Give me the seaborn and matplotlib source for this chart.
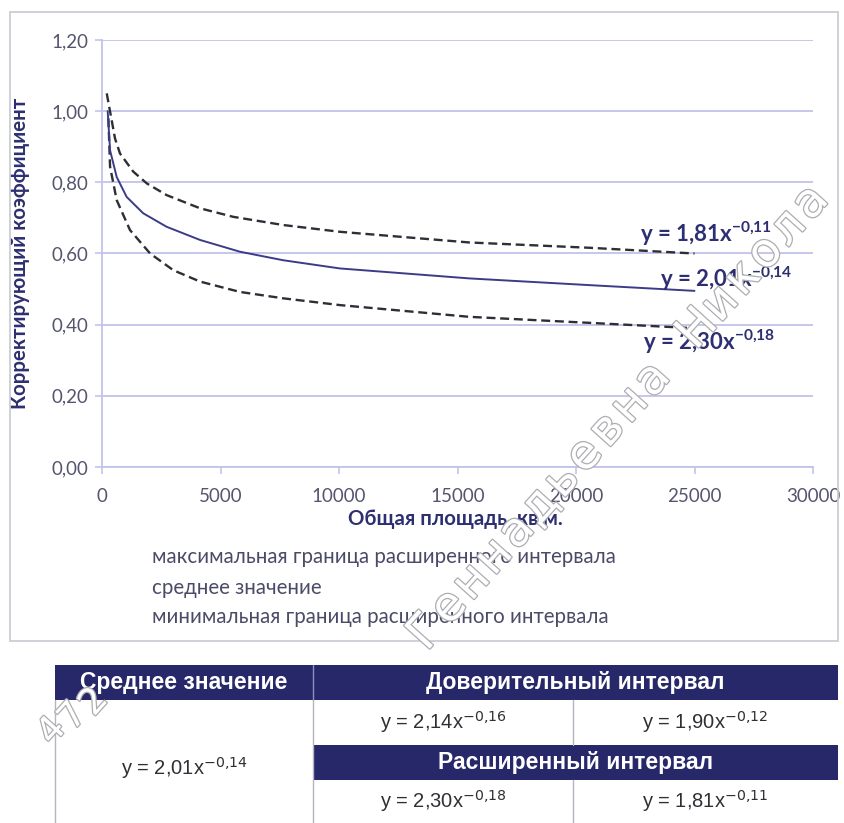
import matplotlib
matplotlib.use("Agg")
import matplotlib.pyplot as plt
import matplotlib.patheffects as pe
from matplotlib.patches import Rectangle
import seaborn as sns
import pandas as pd

# ---------------- data ----------------
x_max = [200, 550, 760, 1320, 1890, 2730, 4140, 5540, 7650, 10040, 15500, 20600, 25000]
y_max = [1.05, 0.923, 0.881, 0.830, 0.797, 0.764, 0.727, 0.703, 0.680, 0.661, 0.631, 0.616, 0.600]
x_mean = [240, 340, 620, 1040, 1740, 2730, 4140, 5820, 7650, 10040, 15500, 20600, 25000]
y_mean = [1.00, 0.890, 0.815, 0.759, 0.713, 0.675, 0.638, 0.605, 0.581, 0.558, 0.530, 0.511, 0.495]
x_min = [270, 340, 620, 1180, 2030, 3010, 4140, 5820, 7650, 10040, 15500, 20600, 25000]
y_min = [0.98, 0.844, 0.750, 0.666, 0.600, 0.553, 0.521, 0.492, 0.474, 0.455, 0.422, 0.405, 0.390]

x_ticks = [0, 5000, 10000, 15000, 20000, 25000, 30000]
y_ticks = [0.0, 0.2, 0.4, 0.6, 0.8, 1.0, 1.2]
y_tick_labels = ["0,00", "0,20", "0,40", "0,60", "0,80", "1,00", "1,20"]

y_label = "Корректирующий коэффициент"
x_label = "Общая площадь, кв.м."
legend_labels = ["максимальная граница расширенного интервала",
                 "среднее значение",
                 "минимальная граница расширенного интервала"]
eq_max = ("y = 1,81x", "-0{,}11")
eq_mean = ("y = 2,01x", "-0{,}14")
eq_min = ("y = 2,30x", "-0{,}18")

table_header_mean = "Среднее значение"
table_header_conf = "Доверительный интервал"
table_header_ext = "Расширенный интервал"
table_mean = ("y = 2,01x", "-0{,}14")
table_conf = [("y = 2,14x", "-0{,}16"), ("y = 1,90x", "-0{,}12")]
table_ext = [("y = 2,30x", "-0{,}18"), ("y = 1,81x", "-0{,}11")]
watermark_main = "Геннадьевна Никола"
watermark_small = "472"

# ---------------- style ----------------
sns.set_theme(style="white")
CHART_FONT = ["Lato", "Open Sans", "DejaVu Sans"]
TABLE_FONT = ["Liberation Sans Narrow", "Liberation Sans", "DejaVu Sans"]
plt.rcParams["font.family"] = CHART_FONT
plt.rcParams["mathtext.fontset"] = "custom"
plt.rcParams["mathtext.bf"] = "Lato:bold"
plt.rcParams["mathtext.rm"] = "Liberation Sans Narrow"

NAVY = "#26286a"
NAVY_TXT = "#2d2f70"
GRID = "#c3c3ea"
TICK_TXT = "#55556f"

W, H = 844, 823
fig = plt.figure(figsize=(W / 100, H / 100), dpi=100)

# main chart axes
l, r, t, b = 102, 813, 40, 467
ax = fig.add_axes([l / W, 1 - b / H, (r - l) / W, (b - t) / H])

df = pd.concat([
    pd.DataFrame({"x": x_max, "y": y_max, "s": "max"}),
    pd.DataFrame({"x": x_mean, "y": y_mean, "s": "mean"}),
    pd.DataFrame({"x": x_min, "y": y_min, "s": "min"}),
])
sns.lineplot(data=df[df.s == "max"], x="x", y="y", ax=ax, color="#2e2e36",
             lw=1.7, estimator=None, sort=True)
sns.lineplot(data=df[df.s == "min"], x="x", y="y", ax=ax, color="#2e2e36",
             lw=1.7, estimator=None, sort=True)
sns.lineplot(data=df[df.s == "mean"], x="x", y="y", ax=ax, color="#3b3c88",
             lw=1.4, estimator=None, sort=True)
for line in ax.get_lines()[:2]:
    line.set_dashes((3.8, 2.0))

ax.set_xlim(0, 30000)
ax.set_ylim(0, 1.2)
ax.set_xticks(x_ticks)
ax.set_xticklabels([str(v) for v in x_ticks])
ax.set_yticks(y_ticks)
ax.set_yticklabels(y_tick_labels)
ax.grid(axis="y", color=GRID, lw=1.3)
ax.grid(axis="x", visible=False)
for s in ["top", "right"]:
    ax.spines[s].set_visible(False)
for s in ["left", "bottom"]:
    ax.spines[s].set_color(GRID)
    ax.spines[s].set_linewidth(1.3)
ax.tick_params(axis="x", length=5, color=GRID, width=1.2, pad=10,
               labelsize=13.5, labelcolor=TICK_TXT, bottom=True)
ax.tick_params(axis="y", length=5, color=GRID, width=1.2, pad=5,
               labelsize=13.5, labelcolor=TICK_TXT, left=True)
ax.set_xlabel(x_label, fontsize=14.7, fontweight="bold", color=NAVY_TXT)
ax.set_ylabel(y_label, fontsize=14.7, fontweight="bold", color=NAVY_TXT)
ax.xaxis.set_label_coords(0.497, -0.098)
ax.yaxis.set_label_coords(-0.101, 0.5)


def eq_text(axis, x, y, base, exp, size, weight, color, **kw):
    if weight == "bold":
        s = base + r"$^{\mathbf{" + exp + "}}$"
    else:
        s = base + r"$^{\mathrm{" + exp + "}}$"
    return axis.text(x, y, s, fontsize=size, fontweight=weight, color=color, **kw)


eq_text(ax, 22700, 0.632, *eq_max, 16, "bold", NAVY_TXT, va="baseline")
eq_text(ax, 23540, 0.506, *eq_mean, 16, "bold", NAVY_TXT, va="baseline")
eq_text(ax, 22830, 0.329, *eq_min, 16, "bold", NAVY_TXT, va="baseline")

# overlay in pixel coordinates
ov = fig.add_axes([0, 0, 1, 1])
ov.set_xlim(0, W)
ov.set_ylim(H, 0)
ov.axis("off")

# chart border
ov.add_patch(Rectangle((10, 12), 828, 629, fill=False, ec="#cdcdd6", lw=1.3))

# legend lines (text only, as in the source)
for yy, lab in zip([557, 588, 617], legend_labels):
    ov.text(152, yy, lab, fontsize=14.8, color="#4b4b68", va="center", ha="left")

# table
TL, C1, C2, TR = 55, 313, 573, 838
ov.add_patch(Rectangle((TL, 665), TR - TL, 35, fc=NAVY, ec="none"))
ov.add_patch(Rectangle((C1, 745), TR - C1, 35, fc=NAVY, ec="none"))
ov.plot([C1, C1], [665, 700], color="#8d8fc0", lw=1.0)
ov.plot([TL, TL], [700, 823], color="#b5b5bd", lw=1.0)
ov.plot([C1, C1], [700, 823], color="#b5b5bd", lw=1.0)
ov.plot([C2, C2], [700, 745], color="#b5b5bd", lw=1.0)
ov.plot([C2, C2], [780, 823], color="#b5b5bd", lw=1.0)

HDR = 16.5
ov.text((TL + C1) / 2, 683, table_header_mean, fontsize=HDR, fontweight="bold",
        color="white", ha="center", va="center", family=TABLE_FONT)
ov.text((C1 + TR) / 2, 683, table_header_conf, fontsize=HDR, fontweight="bold",
        color="white", ha="center", va="center", family=TABLE_FONT)
ov.text((C1 + TR) / 2, 763, table_header_ext, fontsize=HDR, fontweight="bold",
        color="white", ha="center", va="center", family=TABLE_FONT)
eq_text(ov, (TL + C1) / 2, 768, *table_mean, 14.5, "normal", "#2f2f35",
        ha="center", va="center", family=TABLE_FONT)
for (cx, (bs, ex)) in zip([(C1 + C2) / 2, (C2 + TR) / 2], table_conf):
    eq_text(ov, cx, 722, bs, ex, 14.5, "normal", "#2f2f35",
            ha="center", va="center", family=TABLE_FONT)
for (cx, (bs, ex)) in zip([(C1 + C2) / 2, (C2 + TR) / 2], table_ext):
    eq_text(ov, cx, 801, bs, ex, 14.5, "normal", "#2f2f35",
            ha="center", va="center", family=TABLE_FONT)

# watermark (hollow grey letters, placed letter by letter along a slanted line)
wm_fx = [pe.withStroke(linewidth=1.8, foreground="#adadb2")]
x0, y0, ddx, ddy = 427, 633, 22.6, -25.3
for i, ch in enumerate(watermark_main):
    if ch == " ":
        continue
    ov.text(x0 + i * ddx, y0 + i * ddy, ch, fontsize=34, color="white",
            rotation=48, rotation_mode="anchor", ha="center", va="center",
            path_effects=wm_fx, family=["DejaVu Sans"], zorder=10)
for i, ch in enumerate(watermark_small):
    ov.text(52 + i * 21, 731 - i * 14.5, ch, fontsize=26, color="white",
            rotation=48, rotation_mode="anchor", ha="center", va="center",
            path_effects=wm_fx, family=["DejaVu Sans"], zorder=3)

fig.savefig("out.png", dpi=100, facecolor="white")
